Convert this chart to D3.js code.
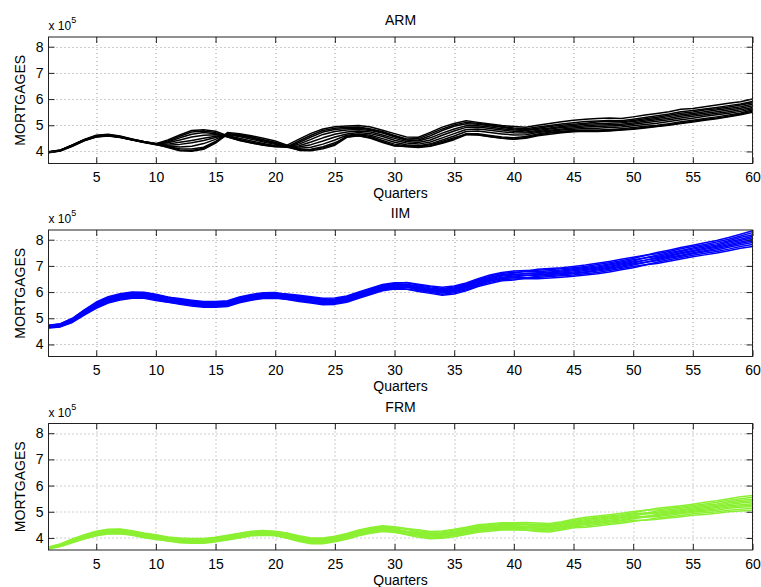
<!DOCTYPE html>
<html>
<head>
<meta charset="utf-8">
<script src="https://cdn.jsdelivr.net/npm/d3@7"></script>
<style>
  body { margin: 0; background: #fff; }
  svg { display: block; }
  text { font-family: "Liberation Sans", Arial, Helvetica, sans-serif; fill: #000; }
</style>
</head>
<body>
<svg id="chart" width="761" height="587"></svg>
<script>
// Quarter index shared by every simulated path
const quarters = [1,2,3,4,5,6,7,8,9,10,11,12,13,14,15,16,17,18,19,20,
  21,22,23,24,25,26,27,28,29,30,31,32,33,34,35,36,37,38,39,40,
  41,42,43,44,45,46,47,48,49,50,51,52,53,54,55,56,57,58,59,60];

const xTickValues = [5,10,15,20,25,30,35,40,45,50,55,60];
const yTickValues = [4,5,6,7,8];
const yScaleExponent = "5";
const panelTitles = ["ARM", "IIM", "FRM"];
const panelColors = ["#000000", "#0000ff", "#8cf032"];

// Simulated ARM mortgage balances (x 10^5), one array per path
const armPaths = [
  [3.99,4.06,4.25,4.46,4.62,4.66,4.59,4.48,4.38,4.30, 4.44,4.63,4.80,4.83,4.77,4.60,4.46,4.35,4.27,4.22,
   4.24,4.47,4.69,4.86,4.94,4.97,4.99,4.93,4.81,4.68, 4.55,4.54,4.73,4.93,5.07,5.17,5.11,5.05,4.99,4.95,
   4.92,5.00,5.07,5.13,5.19,5.23,5.26,5.28,5.26,5.32, 5.39,5.45,5.52,5.61,5.64,5.71,5.77,5.84,5.90,6.00],
  [3.98,4.05,4.24,4.44,4.60,4.64,4.57,4.47,4.37,4.29, 4.40,4.58,4.74,4.78,4.72,4.56,4.42,4.32,4.24,4.18,
   4.18,4.40,4.62,4.80,4.89,4.92,4.93,4.86,4.75,4.61, 4.48,4.49,4.67,4.86,5.01,5.11,5.08,5.01,4.95,4.90,
   4.87,4.93,4.99,5.05,5.10,5.14,5.16,5.18,5.17,5.23, 5.30,5.36,5.43,5.52,5.56,5.62,5.68,5.75,5.81,5.91],
  [3.97,4.04,4.23,4.43,4.58,4.62,4.55,4.45,4.36,4.28, 4.36,4.52,4.66,4.72,4.68,4.55,4.43,4.33,4.25,4.19,
   4.16,4.34,4.55,4.74,4.84,4.88,4.89,4.84,4.73,4.58, 4.45,4.44,4.60,4.80,4.96,5.06,5.04,4.98,4.92,4.86,
   4.83,4.89,4.95,5.00,5.04,5.08,5.12,5.15,5.13,5.18, 5.25,5.31,5.38,5.46,5.51,5.58,5.63,5.70,5.77,5.86],
  [3.98,4.05,4.24,4.45,4.59,4.63,4.56,4.46,4.37,4.29, 4.33,4.44,4.55,4.62,4.64,4.60,4.50,4.40,4.30,4.22,
   4.17,4.28,4.46,4.65,4.76,4.82,4.84,4.80,4.70,4.56, 4.44,4.40,4.52,4.70,4.86,4.98,4.98,4.93,4.87,4.82,
   4.80,4.85,4.90,4.95,4.99,5.04,5.06,5.08,5.10,5.14, 5.20,5.26,5.33,5.40,5.45,5.52,5.58,5.64,5.71,5.80],
  [3.96,4.03,4.22,4.43,4.57,4.61,4.54,4.45,4.35,4.27, 4.28,4.35,4.42,4.50,4.58,4.63,4.57,4.47,4.36,4.27,
   4.19,4.22,4.36,4.52,4.66,4.74,4.78,4.74,4.63,4.50, 4.38,4.34,4.44,4.62,4.78,4.92,4.93,4.88,4.82,4.77,
   4.74,4.80,4.86,4.91,4.94,4.98,5.01,5.02,5.04,5.09, 5.15,5.21,5.27,5.34,5.40,5.46,5.52,5.58,5.65,5.74],
  [3.97,4.04,4.23,4.44,4.58,4.62,4.56,4.46,4.36,4.28, 4.24,4.27,4.33,4.42,4.53,4.66,4.62,4.52,4.41,4.31,
   4.20,4.17,4.26,4.40,4.55,4.67,4.72,4.68,4.57,4.43, 4.32,4.28,4.36,4.52,4.68,4.84,4.86,4.81,4.75,4.71,
   4.70,4.76,4.81,4.86,4.90,4.93,4.95,4.97,4.99,5.04, 5.10,5.15,5.21,5.28,5.34,5.40,5.46,5.52,5.59,5.68],
  [3.98,4.05,4.24,4.44,4.59,4.63,4.56,4.46,4.36,4.28, 4.20,4.17,4.20,4.30,4.46,4.68,4.65,4.56,4.45,4.34,
   4.21,4.12,4.16,4.28,4.44,4.62,4.67,4.62,4.49,4.35, 4.26,4.22,4.29,4.44,4.59,4.76,4.78,4.72,4.67,4.63,
   4.64,4.72,4.77,4.82,4.85,4.88,4.89,4.91,4.93,4.98, 5.03,5.08,5.14,5.21,5.27,5.34,5.40,5.46,5.53,5.63],
  [3.97,4.04,4.22,4.43,4.57,4.61,4.55,4.46,4.36,4.28, 4.17,4.06,4.04,4.12,4.36,4.72,4.68,4.60,4.50,4.40,
   4.24,4.08,4.06,4.14,4.28,4.58,4.64,4.57,4.42,4.28, 4.22,4.18,4.22,4.34,4.48,4.68,4.68,4.61,4.55,4.52,
   4.57,4.67,4.73,4.77,4.80,4.82,4.82,4.84,4.87,4.91, 4.96,5.00,5.06,5.13,5.19,5.26,5.32,5.39,5.47,5.58],
  [3.96,4.03,4.21,4.42,4.56,4.60,4.54,4.45,4.35,4.27, 4.15,4.03,4.01,4.08,4.32,4.66,4.62,4.54,4.44,4.33,
   4.19,4.04,4.03,4.10,4.24,4.54,4.60,4.52,4.37,4.23, 4.18,4.15,4.20,4.31,4.45,4.64,4.64,4.57,4.51,4.48,
   4.53,4.63,4.70,4.74,4.77,4.79,4.79,4.80,4.83,4.87, 4.92,4.96,5.02,5.09,5.15,5.22,5.28,5.34,5.43,5.54],
  [3.95,4.02,4.20,4.41,4.55,4.59,4.53,4.44,4.34,4.26, 4.18,4.10,4.09,4.16,4.38,4.64,4.61,4.52,4.42,4.31,
   4.16,4.06,4.08,4.18,4.33,4.56,4.60,4.50,4.34,4.21, 4.20,4.19,4.26,4.38,4.52,4.66,4.63,4.56,4.50,4.47,
   4.50,4.60,4.66,4.71,4.75,4.77,4.76,4.78,4.82,4.85, 4.90,4.95,5.00,5.07,5.12,5.19,5.25,5.32,5.40,5.50]
];

// Simulated IIM mortgage balances (x 10^5)
const iimPaths = [
  [4.73,4.79,5.00,5.32,5.62,5.82,5.94,6.00,5.99,5.92, 5.81,5.72,5.66,5.61,5.61,5.64,5.78,5.88,5.94,5.95,
   5.93,5.88,5.82,5.76,5.77,5.85,6.00,6.15,6.29,6.36, 6.36,6.27,6.20,6.14,6.19,6.31,6.47,6.61,6.71,6.76,
   6.78,6.78,6.81,6.84,6.89,6.94,7.00,7.07,7.15,7.23, 7.30,7.36,7.45,7.55,7.64,7.72,7.80,7.91,8.02,8.13],
  [4.72,4.78,4.98,5.30,5.59,5.79,5.91,5.97,5.97,5.89, 5.80,5.75,5.69,5.64,5.64,5.67,5.81,5.91,5.97,5.98,
   5.91,5.82,5.76,5.70,5.71,5.79,5.94,6.09,6.23,6.30, 6.30,6.20,6.13,6.08,6.13,6.25,6.41,6.54,6.64,6.68,
   6.70,6.71,6.74,6.77,6.81,6.86,6.92,6.99,7.07,7.15, 7.22,7.28,7.37,7.46,7.55,7.63,7.71,7.81,7.91,8.01],
  [4.71,4.76,4.96,5.27,5.56,5.76,5.88,5.94,5.95,5.86, 5.76,5.67,5.61,5.56,5.56,5.59,5.73,5.83,5.89,5.90,
   5.88,5.85,5.79,5.73,5.74,5.82,5.97,6.12,6.26,6.33, 6.37,6.30,6.23,6.18,6.23,6.35,6.51,6.65,6.75,6.80,
   6.82,6.83,6.86,6.89,6.93,6.98,7.05,7.12,7.20,7.28, 7.40,7.51,7.60,7.70,7.79,7.88,7.97,8.08,8.21,8.34],
  [4.70,4.75,4.94,5.25,5.54,5.74,5.86,5.92,5.91,5.84, 5.75,5.70,5.64,5.59,5.58,5.62,5.76,5.86,5.92,5.92,
   5.86,5.77,5.71,5.65,5.66,5.74,5.89,6.04,6.18,6.25, 6.24,6.15,6.08,6.02,6.07,6.19,6.35,6.47,6.57,6.61,
   6.64,6.64,6.67,6.70,6.73,6.78,6.84,6.91,6.99,7.07, 7.14,7.20,7.29,7.37,7.46,7.54,7.61,7.71,7.81,7.89],
  [4.69,4.74,4.93,5.23,5.51,5.71,5.83,5.89,5.90,5.81, 5.71,5.63,5.57,5.52,5.52,5.55,5.69,5.79,5.85,5.86,
   5.83,5.80,5.74,5.68,5.69,5.77,5.92,6.07,6.21,6.28, 6.29,6.23,6.16,6.11,6.16,6.28,6.44,6.57,6.67,6.72,
   6.80,6.87,6.90,6.93,6.98,7.03,7.10,7.17,7.25,7.33, 7.41,7.46,7.55,7.65,7.74,7.82,7.91,8.02,8.14,8.27],
  [4.68,4.72,4.91,5.21,5.49,5.69,5.81,5.87,5.86,5.79, 5.70,5.65,5.59,5.54,5.54,5.57,5.71,5.81,5.87,5.88,
   5.81,5.72,5.66,5.60,5.61,5.69,5.84,5.99,6.13,6.20, 6.18,6.09,6.02,5.96,6.01,6.13,6.29,6.41,6.51,6.55,
   6.56,6.56,6.59,6.62,6.65,6.70,6.75,6.82,6.90,6.98, 7.04,7.09,7.18,7.26,7.35,7.42,7.49,7.58,7.67,7.74],
  [4.67,4.71,4.90,5.19,5.46,5.66,5.78,5.84,5.85,5.76, 5.67,5.59,5.53,5.48,5.47,5.51,5.65,5.75,5.81,5.82,
   5.78,5.75,5.69,5.63,5.64,5.72,5.87,6.02,6.16,6.23, 6.25,6.17,6.10,6.05,6.10,6.22,6.38,6.51,6.61,6.65,
   6.71,6.74,6.77,6.80,6.85,6.90,6.96,7.03,7.11,7.19, 7.31,7.41,7.50,7.59,7.68,7.77,7.85,7.96,8.08,8.19],
  [4.66,4.70,4.88,5.17,5.44,5.64,5.76,5.82,5.81,5.74, 5.66,5.61,5.55,5.50,5.50,5.53,5.67,5.77,5.83,5.84,
   5.76,5.67,5.61,5.55,5.56,5.64,5.79,5.94,6.08,6.15, 6.12,6.02,5.95,5.88,5.93,6.05,6.21,6.33,6.43,6.46,
   6.54,6.60,6.63,6.66,6.70,6.75,6.80,6.87,6.95,7.03, 7.13,7.24,7.33,7.41,7.50,7.58,7.66,7.76,7.86,7.95],
  [4.64,4.69,4.86,5.15,5.41,5.61,5.73,5.79,5.80,5.71, 5.62,5.53,5.47,5.42,5.42,5.45,5.59,5.69,5.75,5.76,
   5.73,5.70,5.64,5.58,5.59,5.67,5.82,5.97,6.11,6.18, 6.19,6.12,6.05,5.99,6.04,6.16,6.32,6.44,6.54,6.58,
   6.63,6.67,6.70,6.73,6.77,6.82,6.88,6.95,7.03,7.11, 7.21,7.32,7.41,7.50,7.59,7.67,7.75,7.86,7.97,8.07],
  [4.63,4.67,4.84,5.12,5.38,5.58,5.70,5.76,5.76,5.68, 5.61,5.56,5.50,5.45,5.45,5.48,5.62,5.72,5.78,5.79,
   5.72,5.64,5.58,5.52,5.53,5.61,5.76,5.91,6.05,6.12, 6.11,6.06,5.99,5.92,5.97,6.09,6.25,6.37,6.47,6.50,
   6.52,6.51,6.54,6.57,6.60,6.65,6.70,6.77,6.85,6.93, 7.03,7.14,7.23,7.32,7.41,7.48,7.55,7.64,7.74,7.82]
];

// Simulated FRM mortgage balances (x 10^5)
const frmPaths = [
  [3.66,3.77,3.96,4.12,4.26,4.33,4.34,4.28,4.19,4.12, 4.03,3.96,3.94,3.93,3.99,4.06,4.14,4.22,4.24,4.22,
   4.13,4.00,3.92,3.92,3.99,4.09,4.22,4.32,4.39,4.35, 4.25,4.16,4.10,4.12,4.18,4.26,4.35,4.39,4.43,4.43,
   4.40,4.36,4.34,4.41,4.50,4.54,4.59,4.64,4.69,4.76, 4.79,4.82,4.87,4.92,4.98,5.02,5.06,5.13,5.17,5.20],
  [3.65,3.76,3.94,4.10,4.24,4.31,4.32,4.26,4.17,4.10, 4.04,4.00,3.98,3.98,4.03,4.10,4.18,4.26,4.28,4.26,
   4.19,4.05,3.97,3.97,4.04,4.14,4.27,4.37,4.44,4.40, 4.33,4.24,4.18,4.20,4.26,4.34,4.43,4.47,4.51,4.51,
   4.49,4.46,4.44,4.51,4.60,4.66,4.71,4.76,4.81,4.88, 4.91,4.94,4.99,5.04,5.10,5.15,5.20,5.28,5.33,5.37],
  [3.64,3.75,3.93,4.08,4.22,4.29,4.30,4.24,4.15,4.08, 4.02,3.98,3.96,3.95,4.01,4.08,4.16,4.24,4.26,4.24,
   4.18,4.08,4.00,4.00,4.07,4.17,4.30,4.40,4.47,4.43, 4.36,4.28,4.22,4.24,4.30,4.38,4.47,4.51,4.55,4.54,
   4.53,4.49,4.47,4.54,4.63,4.70,4.75,4.80,4.85,4.92, 4.95,4.98,5.03,5.08,5.14,5.20,5.25,5.33,5.38,5.42],
  [3.63,3.74,3.91,4.06,4.20,4.27,4.28,4.22,4.13,4.06, 3.98,3.92,3.90,3.90,3.95,4.02,4.10,4.18,4.20,4.18,
   4.09,3.96,3.88,3.88,3.95,4.05,4.18,4.28,4.35,4.31, 4.26,4.21,4.15,4.17,4.23,4.31,4.40,4.44,4.48,4.48,
   4.51,4.53,4.51,4.58,4.67,4.74,4.79,4.84,4.89,4.96, 5.05,5.13,5.18,5.23,5.29,5.36,5.42,5.50,5.57,5.62],
  [3.62,3.73,3.90,4.05,4.18,4.25,4.26,4.20,4.11,4.04, 3.97,3.94,3.92,3.91,3.97,4.04,4.12,4.20,4.22,4.20,
   4.14,4.03,3.95,3.94,4.02,4.12,4.25,4.35,4.42,4.38, 4.35,4.31,4.25,4.27,4.33,4.41,4.50,4.54,4.58,4.58,
   4.59,4.57,4.55,4.62,4.71,4.79,4.84,4.89,4.94,5.01, 5.06,5.08,5.13,5.18,5.24,5.30,5.36,5.44,5.50,5.55],
  [3.62,3.72,3.88,4.03,4.16,4.23,4.24,4.18,4.09,4.02, 3.94,3.88,3.86,3.86,3.91,3.98,4.06,4.14,4.16,4.14,
   4.05,3.92,3.84,3.83,3.91,4.01,4.14,4.24,4.31,4.27, 4.15,4.07,4.01,4.03,4.09,4.17,4.26,4.30,4.34,4.33,
   4.29,4.25,4.23,4.30,4.39,4.41,4.46,4.51,4.56,4.63, 4.69,4.76,4.81,4.86,4.92,4.96,5.00,5.06,5.10,5.13],
  [3.61,3.71,3.87,4.02,4.14,4.21,4.22,4.16,4.07,4.00, 3.95,3.90,3.88,3.88,3.93,4.00,4.08,4.16,4.18,4.16,
   4.10,3.98,3.90,3.90,3.97,4.07,4.20,4.30,4.37,4.33, 4.24,4.18,4.12,4.14,4.20,4.28,4.37,4.41,4.45,4.45,
   4.43,4.39,4.37,4.44,4.53,4.58,4.63,4.68,4.73,4.80, 4.83,4.86,4.91,4.96,5.02,5.06,5.11,5.18,5.22,5.26],
  [3.60,3.70,3.86,4.00,4.13,4.20,4.21,4.15,4.06,3.99, 3.90,3.84,3.82,3.82,3.87,3.94,4.02,4.10,4.12,4.10,
   3.99,3.86,3.78,3.78,3.85,3.95,4.08,4.18,4.25,4.21, 4.14,4.10,4.04,4.06,4.12,4.20,4.29,4.33,4.37,4.37,
   4.35,4.33,4.31,4.38,4.47,4.51,4.56,4.61,4.66,4.73, 4.81,4.90,4.95,5.00,5.06,5.11,5.16,5.23,5.27,5.31],
  [3.59,3.68,3.84,3.98,4.10,4.17,4.18,4.12,4.03,3.96, 3.88,3.82,3.80,3.80,3.85,3.92,4.00,4.08,4.10,4.08,
   4.00,3.89,3.81,3.81,3.88,3.98,4.11,4.21,4.28,4.24, 4.12,4.03,3.97,3.99,4.05,4.13,4.22,4.26,4.30,4.30,
   4.30,4.29,4.27,4.34,4.43,4.46,4.51,4.56,4.61,4.68, 4.68,4.71,4.76,4.81,4.87,4.90,4.94,5.00,5.03,5.06],
  [3.58,3.67,3.82,3.96,4.08,4.15,4.16,4.10,4.01,3.94, 3.89,3.87,3.85,3.84,3.90,3.97,4.05,4.13,4.15,4.13,
   4.04,3.94,3.86,3.86,3.93,4.03,4.16,4.26,4.33,4.29, 4.20,4.13,4.07,4.09,4.15,4.23,4.32,4.36,4.40,4.40,
   4.41,4.43,4.41,4.48,4.57,4.62,4.67,4.72,4.77,4.84, 4.93,5.03,5.08,5.13,5.19,5.25,5.30,5.38,5.44,5.48]
];

const panelPaths = [armPaths, iimPaths, frmPaths];

// ---- layout ----
const plotLeft = 48.5, plotRight = 752.5;
const panelTops = [37, 230, 423.5];
const panelHeight = 126.5;
const tickLen = 6;

const svg = d3.select("#chart");

const x = d3.scaleLinear().domain([1, 60]).range([0, plotRight - plotLeft]);
const y = d3.scaleLinear().domain([3.54, 8.37]).range([panelHeight, 0]);

const line = d3.line()
  .x((d, i) => x(quarters[i]))
  .y(d => y(d));

panelTitles.forEach((title, p) => {
  const g = svg.append("g").attr("transform", `translate(${plotLeft},${panelTops[p]})`);
  const w = plotRight - plotLeft;

  // dotted grid
  g.append("g").selectAll("line.gx").data(xTickValues).join("line")
    .attr("x1", d => Math.round(x(d)) + 0.5).attr("x2", d => Math.round(x(d)) + 0.5)
    .attr("y1", 0).attr("y2", panelHeight)
    .attr("stroke", "#9a9a9a").attr("stroke-width", 1).attr("stroke-dasharray", "1,3");
  g.append("g").selectAll("line.gy").data(yTickValues).join("line")
    .attr("y1", d => Math.round(y(d)) + 0.5).attr("y2", d => Math.round(y(d)) + 0.5)
    .attr("x1", 0).attr("x2", w)
    .attr("stroke", "#9a9a9a").attr("stroke-width", 1).attr("stroke-dasharray", "1,3");

  // clip region for the paths
  const clipId = "clip" + p;
  g.append("clipPath").attr("id", clipId)
    .append("rect").attr("x", 0).attr("y", 0).attr("width", w).attr("height", panelHeight);

  g.append("g").attr("clip-path", `url(#${clipId})`)
    .selectAll("path").data(panelPaths[p]).join("path")
    .attr("d", line)
    .attr("fill", "none")
    .attr("stroke", panelColors[p])
    .attr("stroke-width", 1.5)
    .attr("stroke-linejoin", "round");

  // axes with inward ticks on all four sides
  const axB = g.append("g").attr("transform", `translate(0,${panelHeight})`)
    .call(d3.axisBottom(x).tickValues(xTickValues).tickSize(-tickLen).tickSizeOuter(0).tickPadding(9));
  const axT = g.append("g")
    .call(d3.axisTop(x).tickValues(xTickValues).tickSize(-tickLen).tickSizeOuter(0).tickFormat(""));
  const axL = g.append("g")
    .call(d3.axisLeft(y).tickValues(yTickValues).tickSize(-tickLen).tickSizeOuter(0).tickPadding(5).tickFormat(d3.format("d")));
  const axR = g.append("g").attr("transform", `translate(${w},0)`)
    .call(d3.axisRight(y).tickValues(yTickValues).tickSize(-tickLen).tickSizeOuter(0).tickFormat(""));

  [axB, axT, axL, axR].forEach(a => {
    a.select(".domain").remove();
    a.selectAll(".tick line").attr("stroke", "#222");
    a.selectAll(".tick text").attr("font-size", 14)
      .attr("font-family", '"Liberation Sans", Arial, Helvetica, sans-serif').attr("fill", "#000");
  });

  // frame
  g.append("rect").attr("x", 0).attr("y", 0).attr("width", w).attr("height", panelHeight)
    .attr("fill", "none").attr("stroke", "#222").attr("stroke-width", 1);

  // title
  g.append("text").attr("x", w / 2).attr("y", -12)
    .attr("text-anchor", "middle").attr("font-size", 14).text(title);

  // exponent label
  const ex = g.append("text").attr("x", 0).attr("y", -7).attr("font-size", 12);
  ex.append("tspan").text("x 10");
  ex.append("tspan").attr("dy", -7).attr("font-size", 9).text(yScaleExponent);

  // axis labels
  g.append("text").attr("x", w / 2).attr("y", panelHeight + 34.5)
    .attr("text-anchor", "middle").attr("font-size", 14).text("Quarters");
  g.append("text")
    .attr("transform", `translate(${25 - plotLeft},${panelHeight / 2}) rotate(-90)`)
    .attr("text-anchor", "middle").attr("font-size", 14).text("MORTGAGES");
});
</script>
</body>
</html>
